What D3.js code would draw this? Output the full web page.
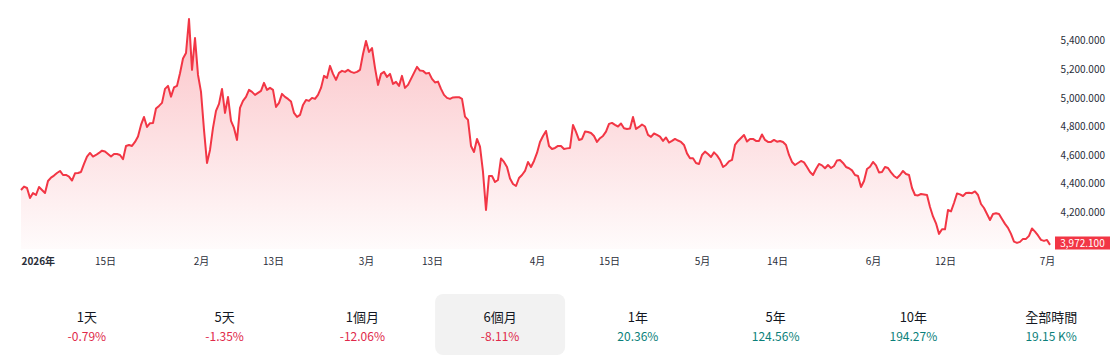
<!DOCTYPE html>
<html>
<head>
<meta charset="utf-8">
<script src="https://cdn.jsdelivr.net/npm/d3@7"></script>
<style>
	body { margin: 0; background: #fff; }
	svg { display: block; font-family: "Noto Sans CJK TC", "Noto Sans", sans-serif; }
</style>
</head>
<body>
<svg id="chart" width="1116" height="359"></svg>
<script>
// price samples, evenly spaced through the session (Jan 2026 -> Jul 2026)
const prices = [
	4356, 4380, 4370, 4300, 4335, 4321, 4377, 4356, 4335, 4419, 4443, 4457, 4475, 4489, 4461, 4461, 4450, 4422, 4473, 4475,
	4482, 4538, 4590, 4615, 4590, 4601, 4615, 4631, 4625, 4608, 4590, 4608, 4608, 4601, 4571, 4664, 4671, 4664, 4692, 4730,
	4811, 4867, 4797, 4823, 4825, 4926, 4944, 4965, 5063, 5084, 5009, 5073, 5084, 5172, 5276, 5314, 5552, 5196, 5419, 5161,
	5042, 4776, 4545, 4636, 4790, 4909, 4958, 5063, 4895, 5007, 4839, 4790, 4706, 4930, 4979, 5007, 5056, 5042, 5021, 5035,
	5049, 5105, 5056, 5070, 5056, 4937, 4965, 5028, 5007, 4993, 4975, 4895, 4867, 4881, 4951, 4986, 4979, 5000, 4993, 5021,
	5070, 5154, 5140, 5224, 5168, 5126, 5175, 5189, 5182, 5196, 5182, 5175, 5182, 5196, 5307, 5398, 5321, 5349, 5210, 5091,
	5168, 5182, 5147, 5168, 5098, 5112, 5084, 5154, 5070, 5091, 5133, 5175, 5217, 5191, 5189, 5171, 5175, 5133, 5108, 5114,
	5063, 5021, 5000, 4993, 5003, 5005, 5005, 4993, 4869, 4846, 4664, 4622, 4713, 4659, 4482, 4216, 4454, 4454, 4412, 4426,
	4577, 4552, 4517, 4437, 4398, 4384, 4440, 4461, 4489, 4552, 4517, 4559, 4615, 4692, 4734, 4769, 4664, 4643, 4650, 4664,
	4664, 4643, 4647, 4650, 4811, 4762, 4706, 4713, 4765, 4762, 4755, 4734, 4692, 4718, 4734, 4764, 4818, 4825, 4811, 4800,
	4821, 4788, 4783, 4786, 4867, 4783, 4797, 4814, 4800, 4741, 4727, 4751, 4741, 4729, 4699, 4723, 4688, 4699, 4713, 4702,
	4692, 4671, 4612, 4578, 4578, 4545, 4538, 4601, 4624, 4608, 4587, 4619, 4598, 4566, 4517, 4531, 4556, 4566, 4671, 4699,
	4720, 4741, 4695, 4713, 4713, 4699, 4699, 4744, 4706, 4692, 4692, 4706, 4694, 4699, 4692, 4671, 4601, 4552, 4531, 4545,
	4559, 4549, 4517, 4482, 4461, 4503, 4538, 4528, 4508, 4531, 4510, 4524, 4563, 4566, 4545, 4517, 4508, 4493, 4461, 4454,
	4377, 4419, 4503, 4519, 4552, 4528, 4479, 4482, 4517, 4510, 4479, 4454, 4440, 4461, 4489, 4468, 4461, 4370, 4321, 4318,
	4328, 4325, 4321, 4237, 4171, 4123, 4049, 4081, 4081, 4216, 4206, 4265, 4332, 4325, 4314, 4335, 4337, 4334, 4346, 4321,
	4258, 4230, 4188, 4146, 4188, 4193, 4188, 4153, 4119, 4091, 4049, 3995, 3986, 3993, 4014, 4014, 4035, 4087, 4065, 4038,
	4007, 4000, 4007, 3972.1,
];

// time axis: label + sample index where it sits
const tickLabels = ["2026年", "15日", "2月", "13日", "3月", "13日", "4月", "15日", "5月", "14日", "6月", "12日", "7月"];
const tickAt = [0, 28, 60, 84, 115, 137, 172, 196, 227, 252, 284, 308, 342];

const priceTicks = [4200, 4400, 4600, 4800, 5000, 5200, 5400];

// period buttons under the chart
const periods = ["1天", "5天", "1個月", "6個月", "1年", "5年", "10年", "全部時間"];
const periodChanges = ["-0.79%", "-1.35%", "-12.06%", "-8.11%", "20.36%", "124.56%", "194.27%", "19.15 K%"];
const activePeriod = "6個月";

const RED = "#f23645";
const svg = d3.select("#chart");

const x = d3.scaleLinear().domain([0, prices.length - 1]).range([21, 1050]);
const y = d3.scaleLinear().domain([4200, 5400]).range([212.3, 40.7]);
const baseY = 249;

// area fill gradient
const grad = svg.append("defs").append("linearGradient")
	.attr("id", "areaFill")
	.attr("gradientUnits", "userSpaceOnUse")
	.attr("x1", 0).attr("x2", 0)
	.attr("y1", y(d3.max(prices))).attr("y2", baseY);
grad.append("stop").attr("offset", 0).attr("stop-color", RED).attr("stop-opacity", 0.3);
grad.append("stop").attr("offset", 1).attr("stop-color", RED).attr("stop-opacity", 0.02);

svg.append("path")
	.datum(prices)
	.attr("fill", "url(#areaFill)")
	.attr("d", d3.area().x((d, i) => x(i)).y0(baseY).y1((d) => y(d)));

svg.append("path")
	.datum(prices)
	.attr("fill", "none")
	.attr("stroke", RED)
	.attr("stroke-width", 2)
	.attr("stroke-linejoin", "round")
	.attr("d", d3.line().x((d, i) => x(i)).y((d) => y(d)));

// time axis
const xAxis = svg.append("g")
	.attr("transform", "translate(0,250)")
	.call(d3.axisBottom(x).tickValues(tickAt).tickFormat((d, i) => tickLabels[i]).tickSize(0).tickPadding(7.5));
xAxis.select(".domain").remove();
xAxis.selectAll("text")
	.attr("font-family", null)
	.attr("font-size", 10)
	.attr("fill", "#2a2e39")
	.attr("font-weight", (d, i) => (i === 0 ? "bold" : null))
	.attr("text-anchor", (d, i) => (i === 0 ? "start" : "middle"));
xAxis.attr("font-family", null);

// price axis
const yAxis = svg.append("g")
	.attr("transform", "translate(1105,0)")
	.call(d3.axisLeft(y).tickValues(priceTicks).tickFormat(d3.format(",.3f")).tickSize(0).tickPadding(0));
yAxis.select(".domain").remove();
yAxis.attr("font-family", null);
yAxis.selectAll("text").attr("font-size", 10).attr("fill", "#2a2e39");

// last price tag
const last = prices[prices.length - 1];
const tagY = Math.min(y(last), 243);
svg.append("rect")
	.attr("x", 1055).attr("y", tagY - 6.5)
	.attr("width", 55).attr("height", 13)
	.attr("fill", RED);
svg.append("text")
	.attr("x", 1082.5).attr("y", tagY)
	.attr("dy", "0.35em")
	.attr("text-anchor", "middle")
	.attr("font-size", 10)
	.attr("fill", "#fff")
	.text(d3.format(",.3f")(last));

// period row
const band = d3.scaleBand().domain(periods).range([18, 1120]);
const cells = svg.append("g").selectAll("g")
	.data(periods)
	.join("g")
	.attr("transform", (d) => `translate(${band(d) + band.bandwidth() / 2},0)`);

cells.filter((d) => d === activePeriod)
	.append("rect")
	.attr("x", -65).attr("y", 294)
	.attr("width", 130).attr("height", 61)
	.attr("rx", 8)
	.attr("fill", "#f2f2f2");

cells.append("text")
	.attr("y", 321.5)
	.attr("text-anchor", "middle")
	.attr("font-size", 13)
	.attr("fill", "#131722")
	.text((d) => d);

cells.append("text")
	.attr("y", 340.5)
	.attr("text-anchor", "middle")
	.attr("font-size", 12)
	.attr("fill", (d, i) => (periodChanges[i].startsWith("-") ? "#e0294a" : "#0b7f7a"))
	.text((d, i) => periodChanges[i]);
</script>
</body>
</html>
